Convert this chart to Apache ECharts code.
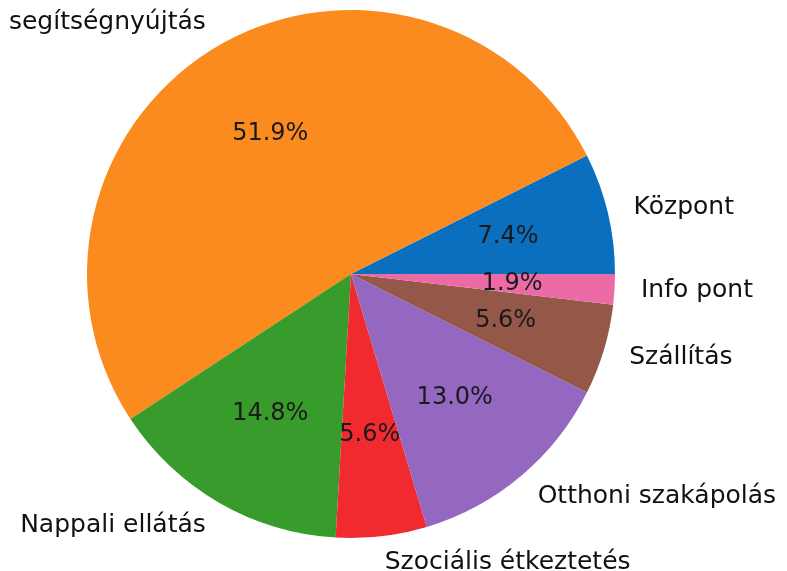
<!DOCTYPE html>
<html>
<head>
<meta charset="utf-8">
<script src="https://cdn.jsdelivr.net/npm/echarts@6/dist/echarts.min.js"></script>
<style>
  html, body { margin: 0; padding: 0; background: #fff; }
  #chart { width: 787px; height: 571px; }
</style>
</head>
<body>
<div id="chart"></div>
<script>
// szolgáltatások megoszlása (darabszám, összesen 54)
const categories = ['Központ', 'segítségnyújtás', 'Nappali ellátás', 'Szociális étkeztetés', 'Otthoni szakápolás', 'Szállítás', 'Info pont'];
const counts = [4, 28, 8, 3, 7, 3, 1];
const colors = ['#0b6fc0', '#fb8a1f', '#389c2c', '#f02a2e', '#9467c0', '#935848', '#ec6aa6'];

const total = counts.reduce((a, b) => a + b, 0);
const pieData = categories.map((name, i) => ({ name: name, value: counts[i] }));

const R = 264;
const center = [351, 274];

const chart = echarts.init(document.getElementById('chart'));

const option = {
  animation: false,
  color: colors,
  series: [
    {
      // a szeletek és a külső feliratok
      type: 'pie',
      center: center,
      radius: [0, R],
      startAngle: 0,
      clockwise: false,
      avoidLabelOverlap: false,
      silent: true,
      itemStyle: { borderWidth: 0 },
      label: {
        show: true,
        position: 'outside',
        fontFamily: 'DejaVu Sans',
        fontSize: 25,
        color: '#111',
        distanceToLabelLine: 0
      },
      labelLine: { show: false, length: R * 0.1, length2: 0 },
      emphasis: { disabled: true },
      data: pieData
    },
    {
      // átlátszó segédkör, hogy a százalékok 0.6 sugárnál legyenek
      type: 'pie',
      center: center,
      radius: [0, R * 1.2],
      startAngle: 0,
      clockwise: false,
      avoidLabelOverlap: false,
      silent: true,
      itemStyle: { color: 'rgba(0,0,0,0)', borderWidth: 0 },
      label: {
        show: true,
        position: 'inside',
        fontFamily: 'DejaVu Sans',
        fontSize: 24,
        color: '#1a1a1a',
        formatter: p => (p.value / total * 100).toFixed(1) + '%'
      },
      labelLine: { show: false },
      emphasis: { disabled: true },
      data: pieData
    }
  ]
};

chart.setOption(option);
</script>
</body>
</html>
